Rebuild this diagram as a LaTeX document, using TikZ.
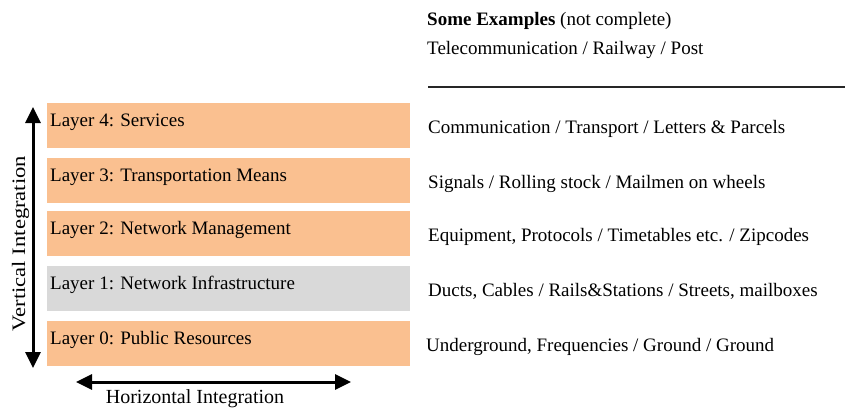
\documentclass[tikz,border=0pt]{standalone}
\usepackage{fontspec}
\setmainfont{Liberation Serif}
\usetikzlibrary{arrows.meta}
\definecolor{layerorange}{HTML}{FAC090}
\definecolor{layergray}{HTML}{D9D9D9}
\tikzset{
  layerbox/.style={draw=none, minimum width=363pt, minimum height=45pt, anchor=north west, inner sep=0pt},
  lbl/.style={anchor=base west, inner sep=0pt, font=\fontsize{19}{22}\selectfont},
  integ/.style={line width=3pt, {Triangle[length=16pt,width=15pt]}-{Triangle[length=16pt,width=15pt]}}
}
\begin{document}
\begin{tikzpicture}[x=1pt, y=-1pt]
  \useasboundingbox (0,0) rectangle (845,410);

  % layer stack
  \node[layerbox, fill=layerorange] (L4) at (47,103) {};
  \node[layerbox, fill=layerorange] (L3) at (47,158) {};
  \node[layerbox, fill=layerorange] (L2) at (47,211) {};
  \node[layerbox, fill=layergray]   (L1) at (47,266) {};
  \node[layerbox, fill=layerorange] (L0) at (47,321) {};

  \node[lbl] (t4) at (50,126) {Layer 4: Services};
  \node[lbl] (t3) at (50,181) {Layer 3: Transportation Means};
  \node[lbl] (t2) at (50,234) {Layer 2: Network Management};
  \node[lbl] (t1) at (50,289) {Layer 1: Network Infrastructure};
  \node[lbl] (t0) at (50,344) {Layer 0: Public Resources};

  % examples column
  \node[lbl] (h1) at (427,25) {\textbf{Some Examples} (not complete)};
  \node[lbl] (h2) at (427,54) {Telecommunication / Railway / Post};
  \coordinate (ruleA) at (428,87);
  \coordinate (ruleB) at (845,87);
  \draw[line width=1.5pt, black!85] (ruleA) -- (ruleB);

  \node[lbl] (e4) at (428,133) {Communication / Transport / Letters \& Parcels};
  \node[lbl] (e3) at (428,188) {Signals / Rolling stock / Mailmen on wheels};
  \node[lbl] (e2) at (428,241) {Equipment, Protocols / Timetables etc. / Zipcodes};
  \node[lbl] (e1) at (428,296) {Ducts, Cables / Rails\&Stations / Streets, mailboxes};
  \node[lbl] (e0) at (426,351) {Underground, Frequencies / Ground / Ground};

  % integration arrows
  \coordinate (vtop) at (33,107);
  \coordinate (vbot) at (33,368);
  \draw[integ] (vtop) -- (vbot);
  \node[lbl, anchor=base, rotate=90] (vlab) at (25,243.5) {\scalebox{1.19}[1]{Vertical Integration}};

  \coordinate (hleft) at (76,382);
  \coordinate (hright) at (351,382);
  \draw[integ] (hleft) -- (hright);
  \node[lbl, anchor=base, font=\fontsize{20}{23}\selectfont] (hlab) at (195,403) {Horizontal Integration};
\end{tikzpicture}
\end{document}
